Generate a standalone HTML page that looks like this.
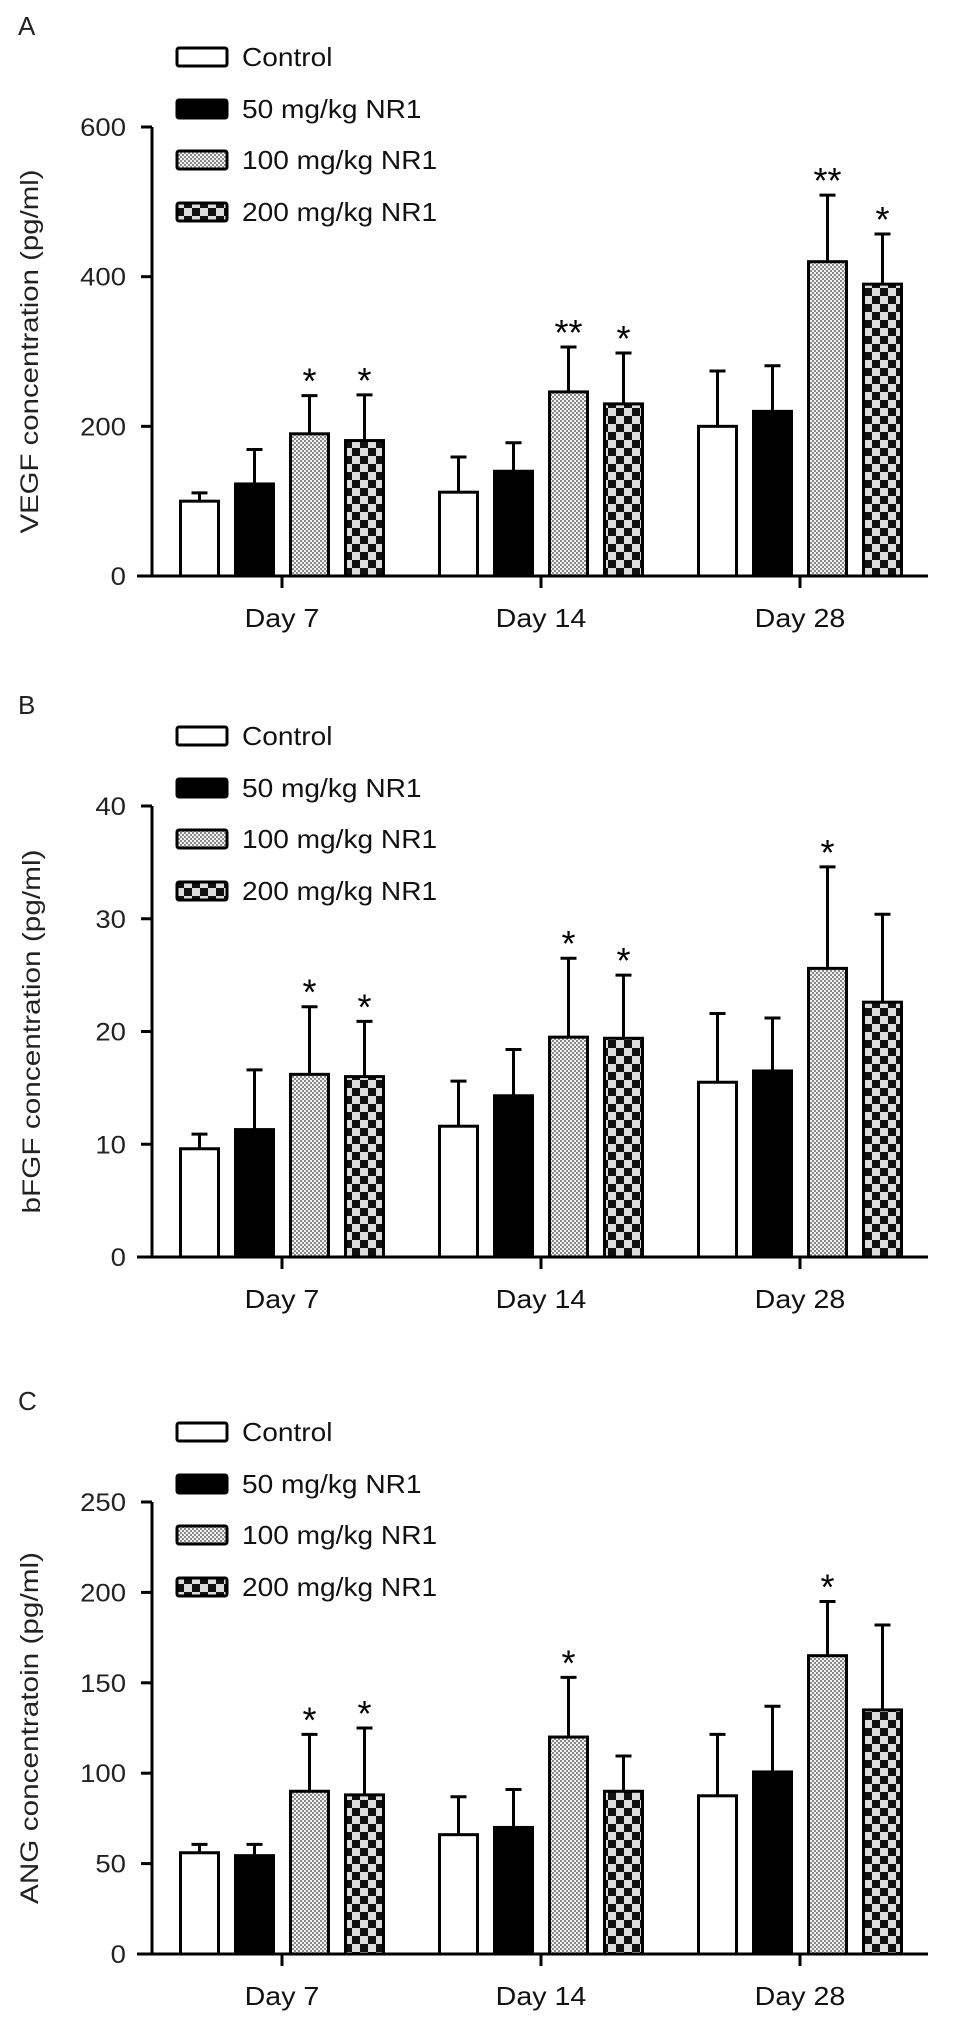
<!DOCTYPE html>
<html><head><meta charset="utf-8"><style>
html,body{margin:0;padding:0;background:#fff;}
svg{display:block;font-family:"Liberation Sans",Arial,sans-serif;}
</style></head><body>
<svg id="fig" width="969" height="2030" viewBox="0 0 969 2030" xmlns="http://www.w3.org/2000/svg">
<defs>
<pattern id="pFine" width="4" height="4" patternUnits="userSpaceOnUse">
<rect width="4" height="4" fill="#f2f2f2"/><rect width="2" height="2" fill="#8a8a8a"/><rect x="2" y="2" width="2" height="2" fill="#8a8a8a"/>
</pattern>
<pattern id="pCheck" width="16" height="16" patternUnits="userSpaceOnUse">
<rect width="16" height="16" fill="#111"/><rect x="8" width="8" height="8" fill="#ddd"/><rect y="8" width="8" height="8" fill="#ddd"/>
</pattern>
</defs>
</svg>
<script>
const categories = ["Day 7","Day 14","Day 28"];
const seriesNames = ["Control","50 mg/kg NR1","100 mg/kg NR1","200 mg/kg NR1"];
// Panel A (VEGF)
const vegfMeans = [[100,112,200],[123,140,220],[190,246,420],[181,230,390]];
const vegfErr = [[111,159,274],[169,178,281],[241,306,509],[242,298,457]];
const vegfStars = [["","",""],["","",""],["*","**","**"],["*","*","*"]];
const vegfTicks = [0,200,400,600];
// Panel B (bFGF)
const bfgfMeans = [[9.6,11.6,15.5],[11.3,14.3,16.5],[16.2,19.5,25.6],[16.0,19.4,22.6]];
const bfgfErr = [[10.9,15.6,21.6],[16.6,18.4,21.2],[22.2,26.5,34.6],[20.9,25.0,30.4]];
const bfgfStars = [["","",""],["","",""],["*","*","*"],["*","*",""]];
const bfgfTicks = [0,10,20,30,40];
// Panel C (ANG)
const angMeans = [[56,66,87.5],[54.4,70,100.7],[90,120,165],[88,90,135]];
const angErr = [[60.6,87,121.5],[60.6,91,137],[121.5,153,195],[125,109.5,182]];
const angStars = [["","",""],["","",""],["*","*","*"],["*","",""]];
const angTicks = [0,50,100,150,200,250];

const NS="http://www.w3.org/2000/svg";
const svg=document.getElementById('fig');
function mk(tag,attrs,parent){const e=document.createElementNS(NS,tag);for(const k in attrs)e.setAttribute(k,attrs[k]);(parent||svg).appendChild(e);return e;}
function txt(s,attrs,parent){const e=mk('text',attrs,parent);e.textContent=s;return e;}
function stretch(e,f){const l=e.getComputedTextLength();e.setAttribute('textLength',(l*f).toFixed(1));e.setAttribute('lengthAdjust','spacingAndGlyphs');}
const fills=["#fff","#000","url(#pFine)","url(#pCheck)"];

function panel(cfg){
  const g=mk('g',{});
  
  
  const top=cfg.top, zero=cfg.zero, maxV=cfg.ticks[cfg.ticks.length-1];
  const yS=v=>zero-(v/maxV)*(zero-top);
  const axX=152, centers=[282,541,800], pitch=55, bw=38;
  const xS=(c,s)=>centers[c]+(s-1.5)*pitch;
  // letter
  const L=txt(cfg.letter,{x:18,y:top-92,'font-size':26,fill:'#222'},g);
  
  // legend
  const legY=[-70,-18,33,85];
  seriesNames.forEach((n,i)=>{
    const r=mk('rect',{x:177,y:top+legY[i]-9,width:50,height:18,fill:fills[i],stroke:'#000','stroke-width':3,rx:2},g);
    
    const t=txt(n,{x:242,y:top+legY[i]+9,'font-size':26,fill:'#111'},g);
    
    stretch(t,1.08);
  });
  // bars
  cfg.means.forEach((arr,s)=>{
    arr.forEach((v,c)=>{
      const cx=xS(c,s), yt=yS(v), ye=yS(cfg.err[s][c]);
      const eb=mk('path',{d:`M${cx},${yt} V${ye} M${cx-8},${ye} H${cx+8}`,stroke:'#000','stroke-width':3,fill:'none'},g);
      
      const b=mk('rect',{x:cx-bw/2,y:yt,width:bw,height:zero-yt,fill:fills[s],stroke:'#000','stroke-width':3},g);
      
      const st=cfg.stars[s][c];
      if(st){const t=txt(st,{x:cx,y:ye-2,'font-size':36,'text-anchor':'middle',fill:'#000'},g);
        }
    });
  });
  // axes
  const ya=mk('line',{x1:axX,y1:top,x2:axX,y2:zero,stroke:'#000','stroke-width':3},g);
  
  const xa=mk('line',{x1:137,y1:zero,x2:928,y2:zero,stroke:'#000','stroke-width':3},g);
  
  cfg.ticks.forEach(v=>{
    const y=yS(v);
    mk('line',{x1:axX-11,y1:y,x2:axX,y2:y,stroke:'#000','stroke-width':3},g);
    const t=txt(String(v),{x:axX-26,y:y+9,'font-size':25,'text-anchor':'end',fill:'#222'},g);
    
    stretch(t,1.1);
  });
  categories.forEach((c,i)=>{
    mk('line',{x1:centers[i],y1:zero,x2:centers[i],y2:zero+12,stroke:'#000','stroke-width':3},g);
    const t=txt(c,{x:centers[i],y:zero+51,'font-size':26,'text-anchor':'middle',fill:'#111'},g);
    
    stretch(t,1.1);
  });
  const my=(top+zero)/2;
  const yt=txt(cfg.title,{x:0,y:0,'font-size':25,'text-anchor':'middle',fill:'#222',transform:`translate(${cfg.titleX},${my}) rotate(-90)`},g);
  
  yt.setAttribute('textLength',cfg.titleLen);yt.setAttribute('lengthAdjust','spacingAndGlyphs');
}
panel({name:'panel-a-vegf',letter:'A',top:127,zero:576,ticks:vegfTicks,means:vegfMeans,err:vegfErr,stars:vegfStars,title:'VEGF concentration (pg/ml)',titleX:38,titleLen:364});
panel({name:'panel-b-bfgf',letter:'B',top:806,zero:1257,ticks:bfgfTicks,means:bfgfMeans,err:bfgfErr,stars:bfgfStars,title:'bFGF  concentration (pg/ml)',titleX:40,titleLen:364});
panel({name:'panel-c-ang',letter:'C',top:1502,zero:1954,ticks:angTicks,means:angMeans,err:angErr,stars:angStars,title:'ANG concentratoin (pg/ml)',titleX:38,titleLen:352});
</script>
</body></html>
